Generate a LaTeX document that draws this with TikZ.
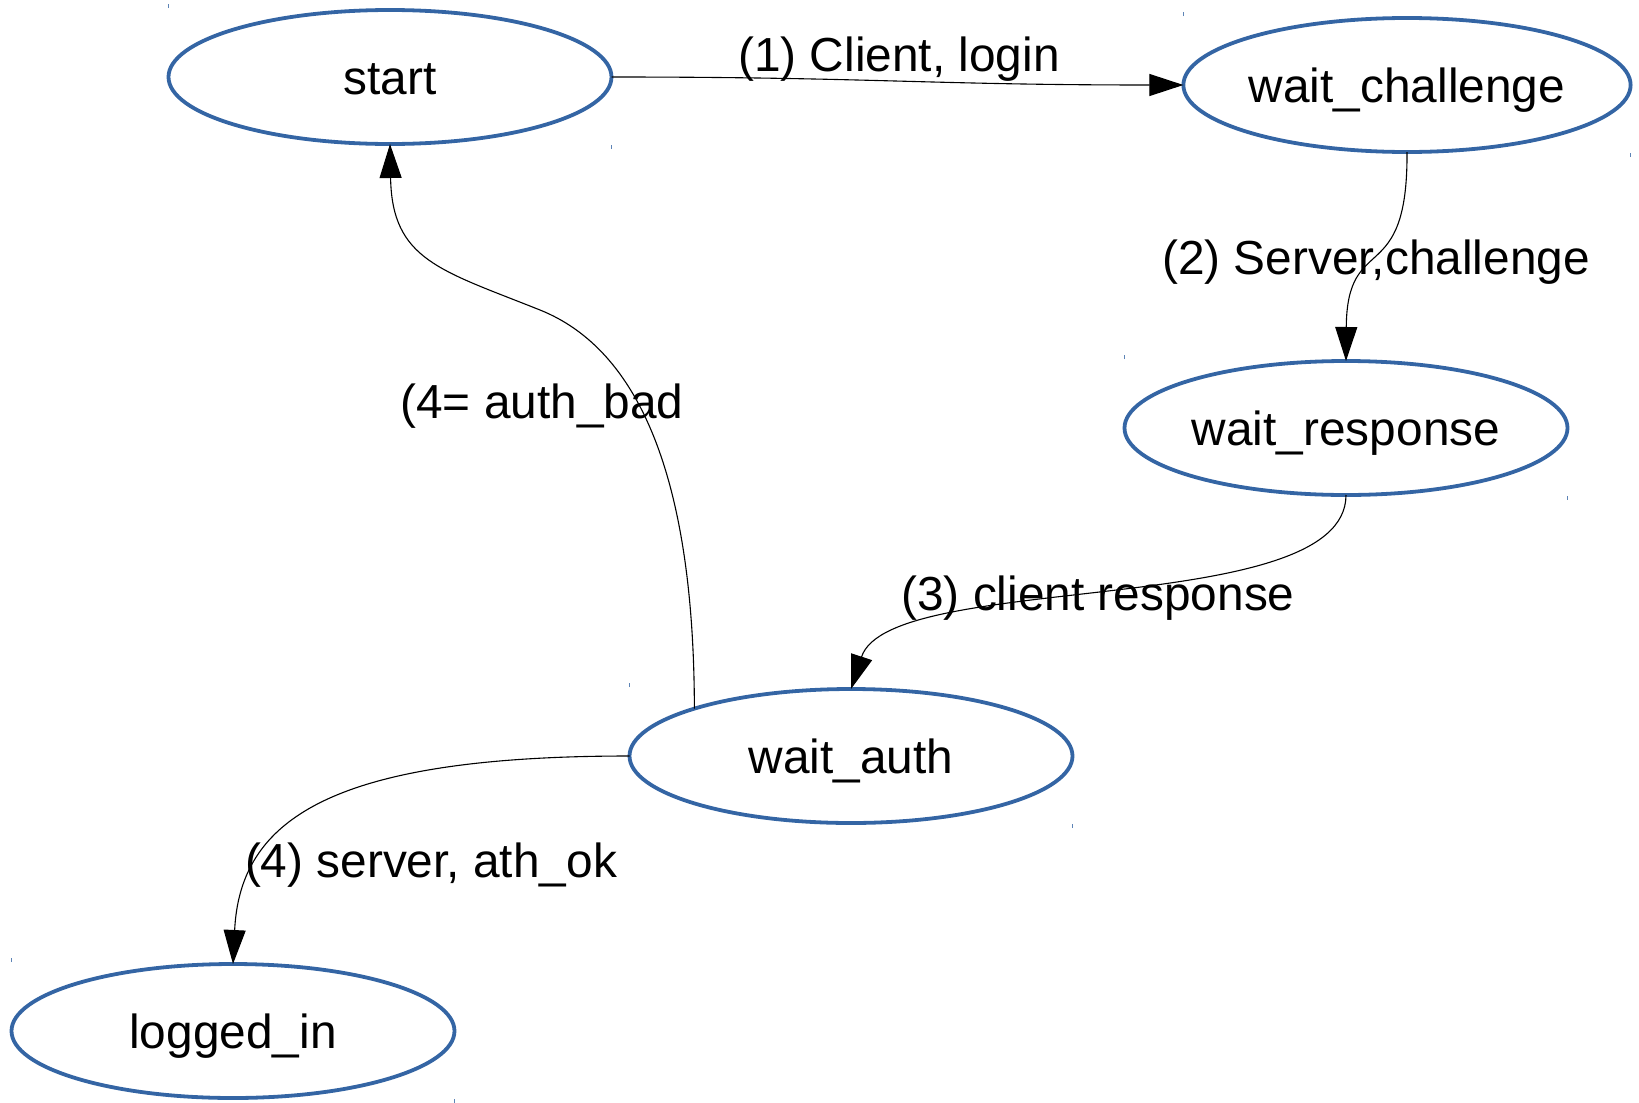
\documentclass[tikz,border=0pt]{standalone}
\usepackage{fontspec}
\setmainfont{Liberation Sans}
\usetikzlibrary{shapes.geometric,arrows.meta}
\definecolor{stateblue}{HTML}{3465A4}
\tikzset{
  state/.style={ellipse, draw=stateblue, line width=3.8pt, minimum width=443pt,
    minimum height=134pt, inner sep=0pt, outer sep=0pt,
    text height=34pt, text depth=0pt, font=\fontsize{47.8pt}{57pt}\selectfont},
  edgelabel/.style={inner sep=0pt, text height=34pt, text depth=0pt,
    font=\fontsize{47.8pt}{57pt}\selectfont},
  trans/.style={line width=1.1pt, -{Triangle[length=34pt,width=22pt]}},
  corner/.style={draw=stateblue!80, line width=1pt}
}
\begin{document}
\begin{tikzpicture}[x=1pt,y=-1pt]
  \useasboundingbox (0,0) rectangle (1639,1103);

  % states
  \node[state] (start) at (390,77)   {start};
  \node[state] (wc)    at (1407,85)  {wait\_challenge};
  \node[state] (wr)    at (1346,428) {wait\_response};
  \node[state] (wa)    at (851,756)  {wait\_auth};
  \node[state] (li)    at (233,1031) {logged\_in};

  % small corner marks of each state's frame
  \foreach \n in {start,wc,wr,wa,li}{
    \draw[corner] ([yshift=2pt]\n.west |- \n.north) -- ++(0,-4);
    \draw[corner] ([yshift=-1pt]\n.east |- \n.south) -- ++(0,4);
  }

  % transitions
  \draw[trans] (start.east) .. controls (870,77) and (930,85) .. (wc.west);
  \draw[trans] (wc.south) .. controls (1408,290) and (1347,230) .. (wr.north);
  \draw[trans] (wr.south) .. controls (1346,620) and (890,570) .. (wa.north);
  \draw[trans] (wa.north west) .. controls (694,480) and (640,350) .. (540,310)
                .. controls (440,270) and (392,260) .. (start.south);
  \draw[trans] (wa.west) .. controls (330,756) and (240,820) .. (li.north);

  % transition labels
  \node[edgelabel] (l1)  at (899,54)   {(1) Client, login};
  \node[edgelabel] (l2)  at (1376,257) {(2) Server,challenge};
  \node[edgelabel] (l3)  at (1098,593) {(3) client response};
  \node[edgelabel] (l4b) at (542,401)  {(4= auth\_bad};
  \node[edgelabel] (l4)  at (431,860)  {(4) server, ath\_ok};
\end{tikzpicture}
\end{document}
